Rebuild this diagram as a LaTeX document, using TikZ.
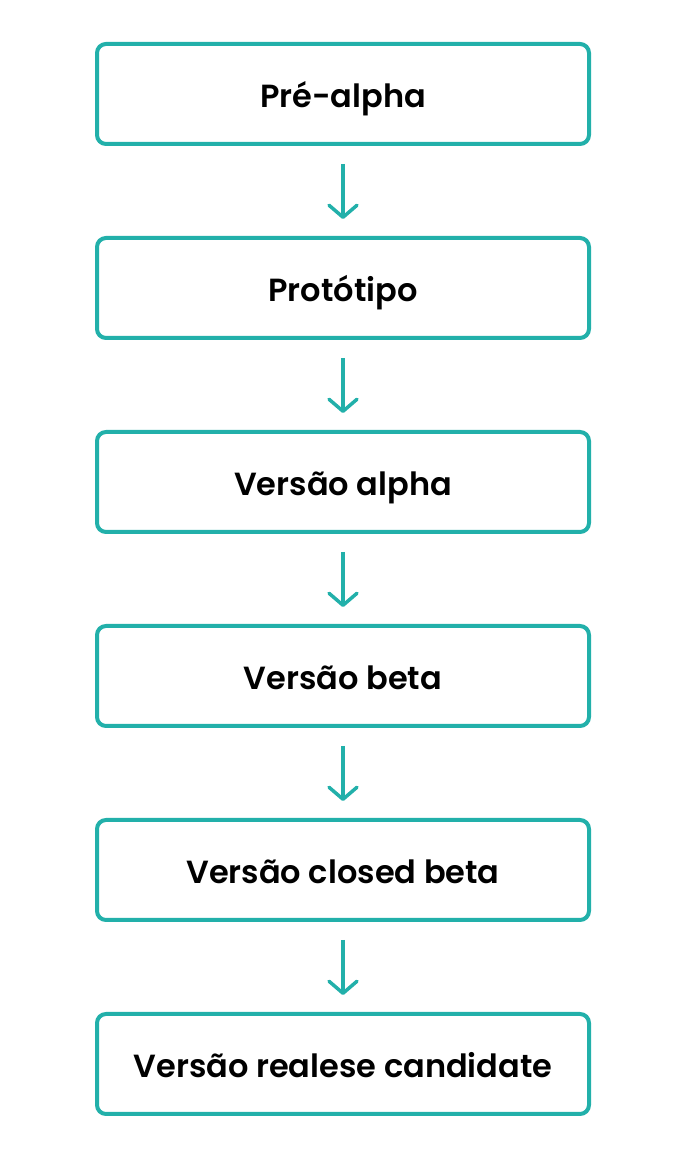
\documentclass[tikz,border=0pt]{standalone}
\usepackage{fontspec}
\setmainfont{Poppins}[BoldFont={Poppins SemiBold}]
\usetikzlibrary{arrows.meta}

\definecolor{stagecolor}{HTML}{22B0AA}

\tikzset{
    stage/.style={draw=stagecolor, line width=4pt, rounded corners=9pt, outer sep=0pt,
        minimum width=492pt, minimum height=100pt, text height=34pt, text depth=6pt,
        font=\bfseries\fontsize{32}{38}\selectfont},
    next/.style={draw=stagecolor, line width=3.5pt, -{Straight Barb[length=12pt, width=28pt, round]},
        shorten <=20pt, shorten >=19pt}
}

\begin{document}
\begin{tikzpicture}[x=1pt, y=1pt]

        \useasboundingbox (0, 0) rectangle (686, 1156);

        \node[stage] (prealpha) at (343, 1062) { Pré-alpha };
        \node[stage] (prototipo) at (343, 868) { Protótipo };
        \node[stage] (alpha) at (343, 674) { Versão alpha };
        \node[stage] (beta) at (343, 480) { Versão beta };
        \node[stage] (closedbeta) at (343, 286) { Versão closed beta };
        \node[stage] (candidate) at (343, 92) { Versão realese candidate };

        \draw[next] (prealpha) -- (prototipo);
        \draw[next] (prototipo) -- (alpha);
        \draw[next] (alpha) -- (beta);
        \draw[next] (beta) -- (closedbeta);
        \draw[next] (closedbeta) -- (candidate);

    \end{tikzpicture}
\end{document}
